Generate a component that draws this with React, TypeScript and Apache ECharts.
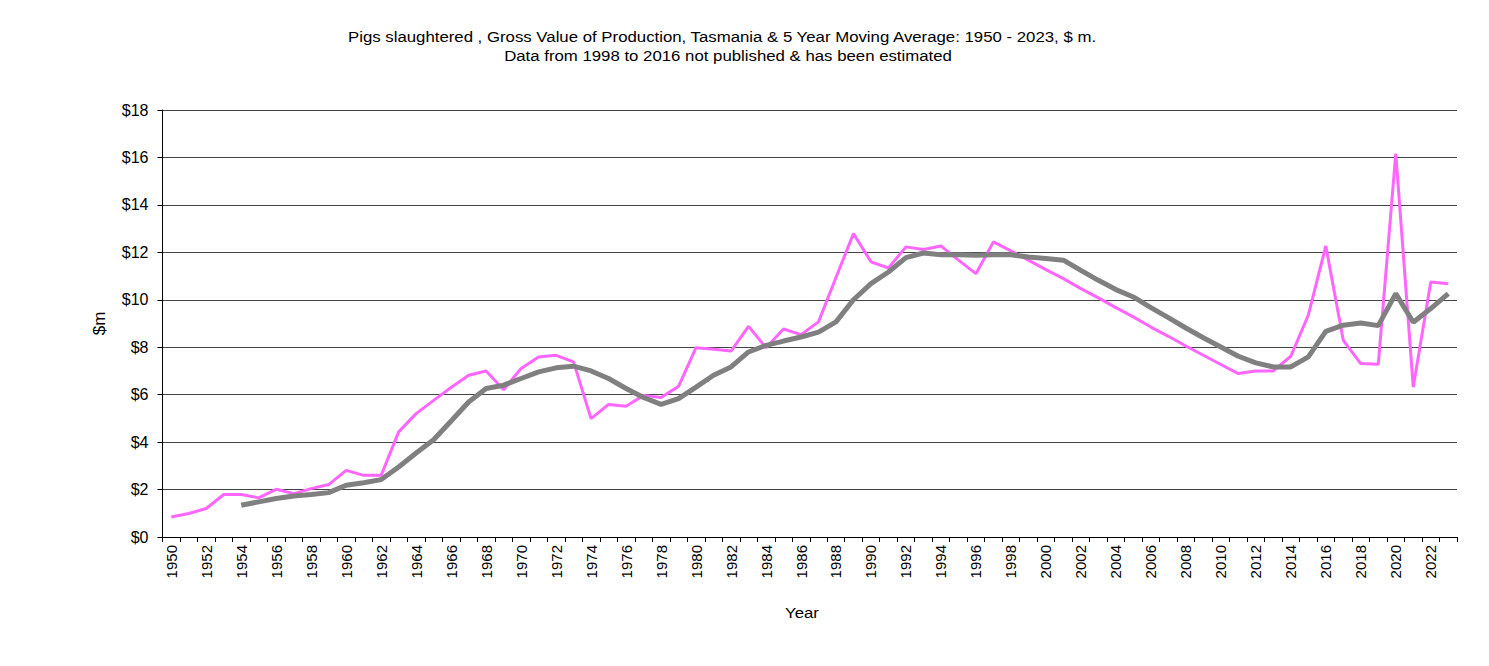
import React, { useEffect, useRef } from "react";
import * as echarts from "echarts";

const years: string[] = Array.from({ length: 74 }, (_, i) => String(1950 + i));

const grossValue: number[] = [
  0.84, 0.99, 1.2, 1.79, 1.79, 1.65, 2.01, 1.83, 2.04, 2.21,
  2.81, 2.6, 2.6, 4.43, 5.2, 5.76, 6.3, 6.82, 7.0, 6.21,
  7.1, 7.59, 7.66, 7.38, 4.99, 5.59, 5.51, 5.97, 5.88, 6.35,
  7.98, 7.91, 7.84, 8.88, 7.98, 8.77, 8.53, 9.07, 10.94, 12.79,
  11.6, 11.34, 12.23, 12.12, 12.27, 11.67, 11.1, 12.44, 12.06, 11.67,
  11.27, 10.89, 10.47, 10.08, 9.67, 9.28, 8.85, 8.46, 8.05, 7.66,
  7.27, 6.89, 7.0, 7.0, 7.62, 9.35, 12.27, 8.29, 7.31, 7.28,
  16.16, 6.32, 10.75, 10.68,
];

const movingAverage: (number | null)[] = [
  null, null, null, null, 1.34, 1.48, 1.62, 1.73, 1.79, 1.87,
  2.18, 2.29, 2.42, 2.95, 3.54, 4.1, 4.89, 5.69, 6.26, 6.4,
  6.68, 6.96, 7.13, 7.2, 7.0, 6.68, 6.26, 5.88, 5.59, 5.83,
  6.32, 6.82, 7.17, 7.8, 8.08, 8.26, 8.43, 8.64, 9.07, 10.0,
  10.68, 11.17, 11.78, 11.97, 11.9, 11.9, 11.88, 11.9, 11.9, 11.8,
  11.74, 11.67, 11.24, 10.82, 10.43, 10.12, 9.67, 9.25, 8.81, 8.4,
  8.01, 7.62, 7.34, 7.17, 7.17, 7.59, 8.67, 8.93, 9.02, 8.91,
  10.26, 9.05, 9.63, 10.26,
];

const titleLines: string[] = [
  "Pigs slaughtered , Gross Value of Production, Tasmania & 5 Year Moving Average: 1950 - 2023, $ m.",
  "Data from 1998 to 2016 not published & has been estimated",
];

const xAxisName = "Year";

const FONT = "'Liberation Sans', Arial, sans-serif";

export default function App() {
  const ref = useRef<HTMLDivElement>(null);
  useEffect(() => {
    if (!ref.current) return;
    const chart = echarts.init(ref.current, null, { renderer: "svg" });
    const textEl = (text: string, x: number, y: number, size: number) => ({
      type: "text",
      x,
      y,
      scaleX: 1.12,
      style: {
        text,
        fontSize: size,
        fontFamily: FONT,
        fill: "#000",
        textAlign: "center",
        textVerticalAlign: "middle",
      },
    });
    chart.setOption({
      animation: false,
      backgroundColor: "#ffffff",
      textStyle: { fontFamily: FONT },
      graphic: [
        textEl(titleLines[0], 722, 37, 15),
        textEl(titleLines[1], 728, 56, 15),
        textEl(xAxisName, 802, 613, 15),
      ],
      grid: { left: 162.5, right: 32, top: 110, bottom: 129, containLabel: false },
      xAxis: {
        type: "category",
        data: years,
        boundaryGap: true,
        axisLine: { show: true, lineStyle: { color: "#000", width: 1 } },
        axisTick: { show: true, interval: 0, length: 5, alignWithLabel: false, lineStyle: { color: "#000" } },
        axisLabel: { interval: 1, rotate: 90, fontSize: 15, color: "#000", margin: 8, fontFamily: FONT },
        splitLine: { show: false },
      },
      yAxis: {
        type: "value",
        min: 0,
        max: 18,
        interval: 2,
        name: "$m",
        nameLocation: "middle",
        nameGap: 55,
        nameTextStyle: { fontSize: 17, color: "#000", fontFamily: FONT },
        axisLine: { show: true, lineStyle: { color: "#000", width: 1 } },
        axisTick: { show: true, length: 5, lineStyle: { color: "#000" } },
        axisLabel: { formatter: "${value}", fontSize: 16, color: "#000", margin: 14, fontFamily: FONT },
        splitLine: { show: true, lineStyle: { color: "#444", width: 1 } },
      },
      series: [
        {
          name: "Gross Value",
          type: "line",
          data: grossValue,
          symbol: "none",
          lineStyle: { color: "#FF66FF", width: 3 },
          itemStyle: { color: "#FF66FF" },
        },
        {
          name: "5 Year Moving Average",
          type: "line",
          data: movingAverage,
          symbol: "none",
          connectNulls: false,
          lineStyle: { color: "#808080", width: 5 },
          itemStyle: { color: "#808080" },
        },
      ],
    });
    return () => chart.dispose();
  }, []);
  return (
    <div
      ref={ref}
      style={{ position: "absolute", left: 0, top: 0, width: 1489, height: 666 }}
    />
  );
}
